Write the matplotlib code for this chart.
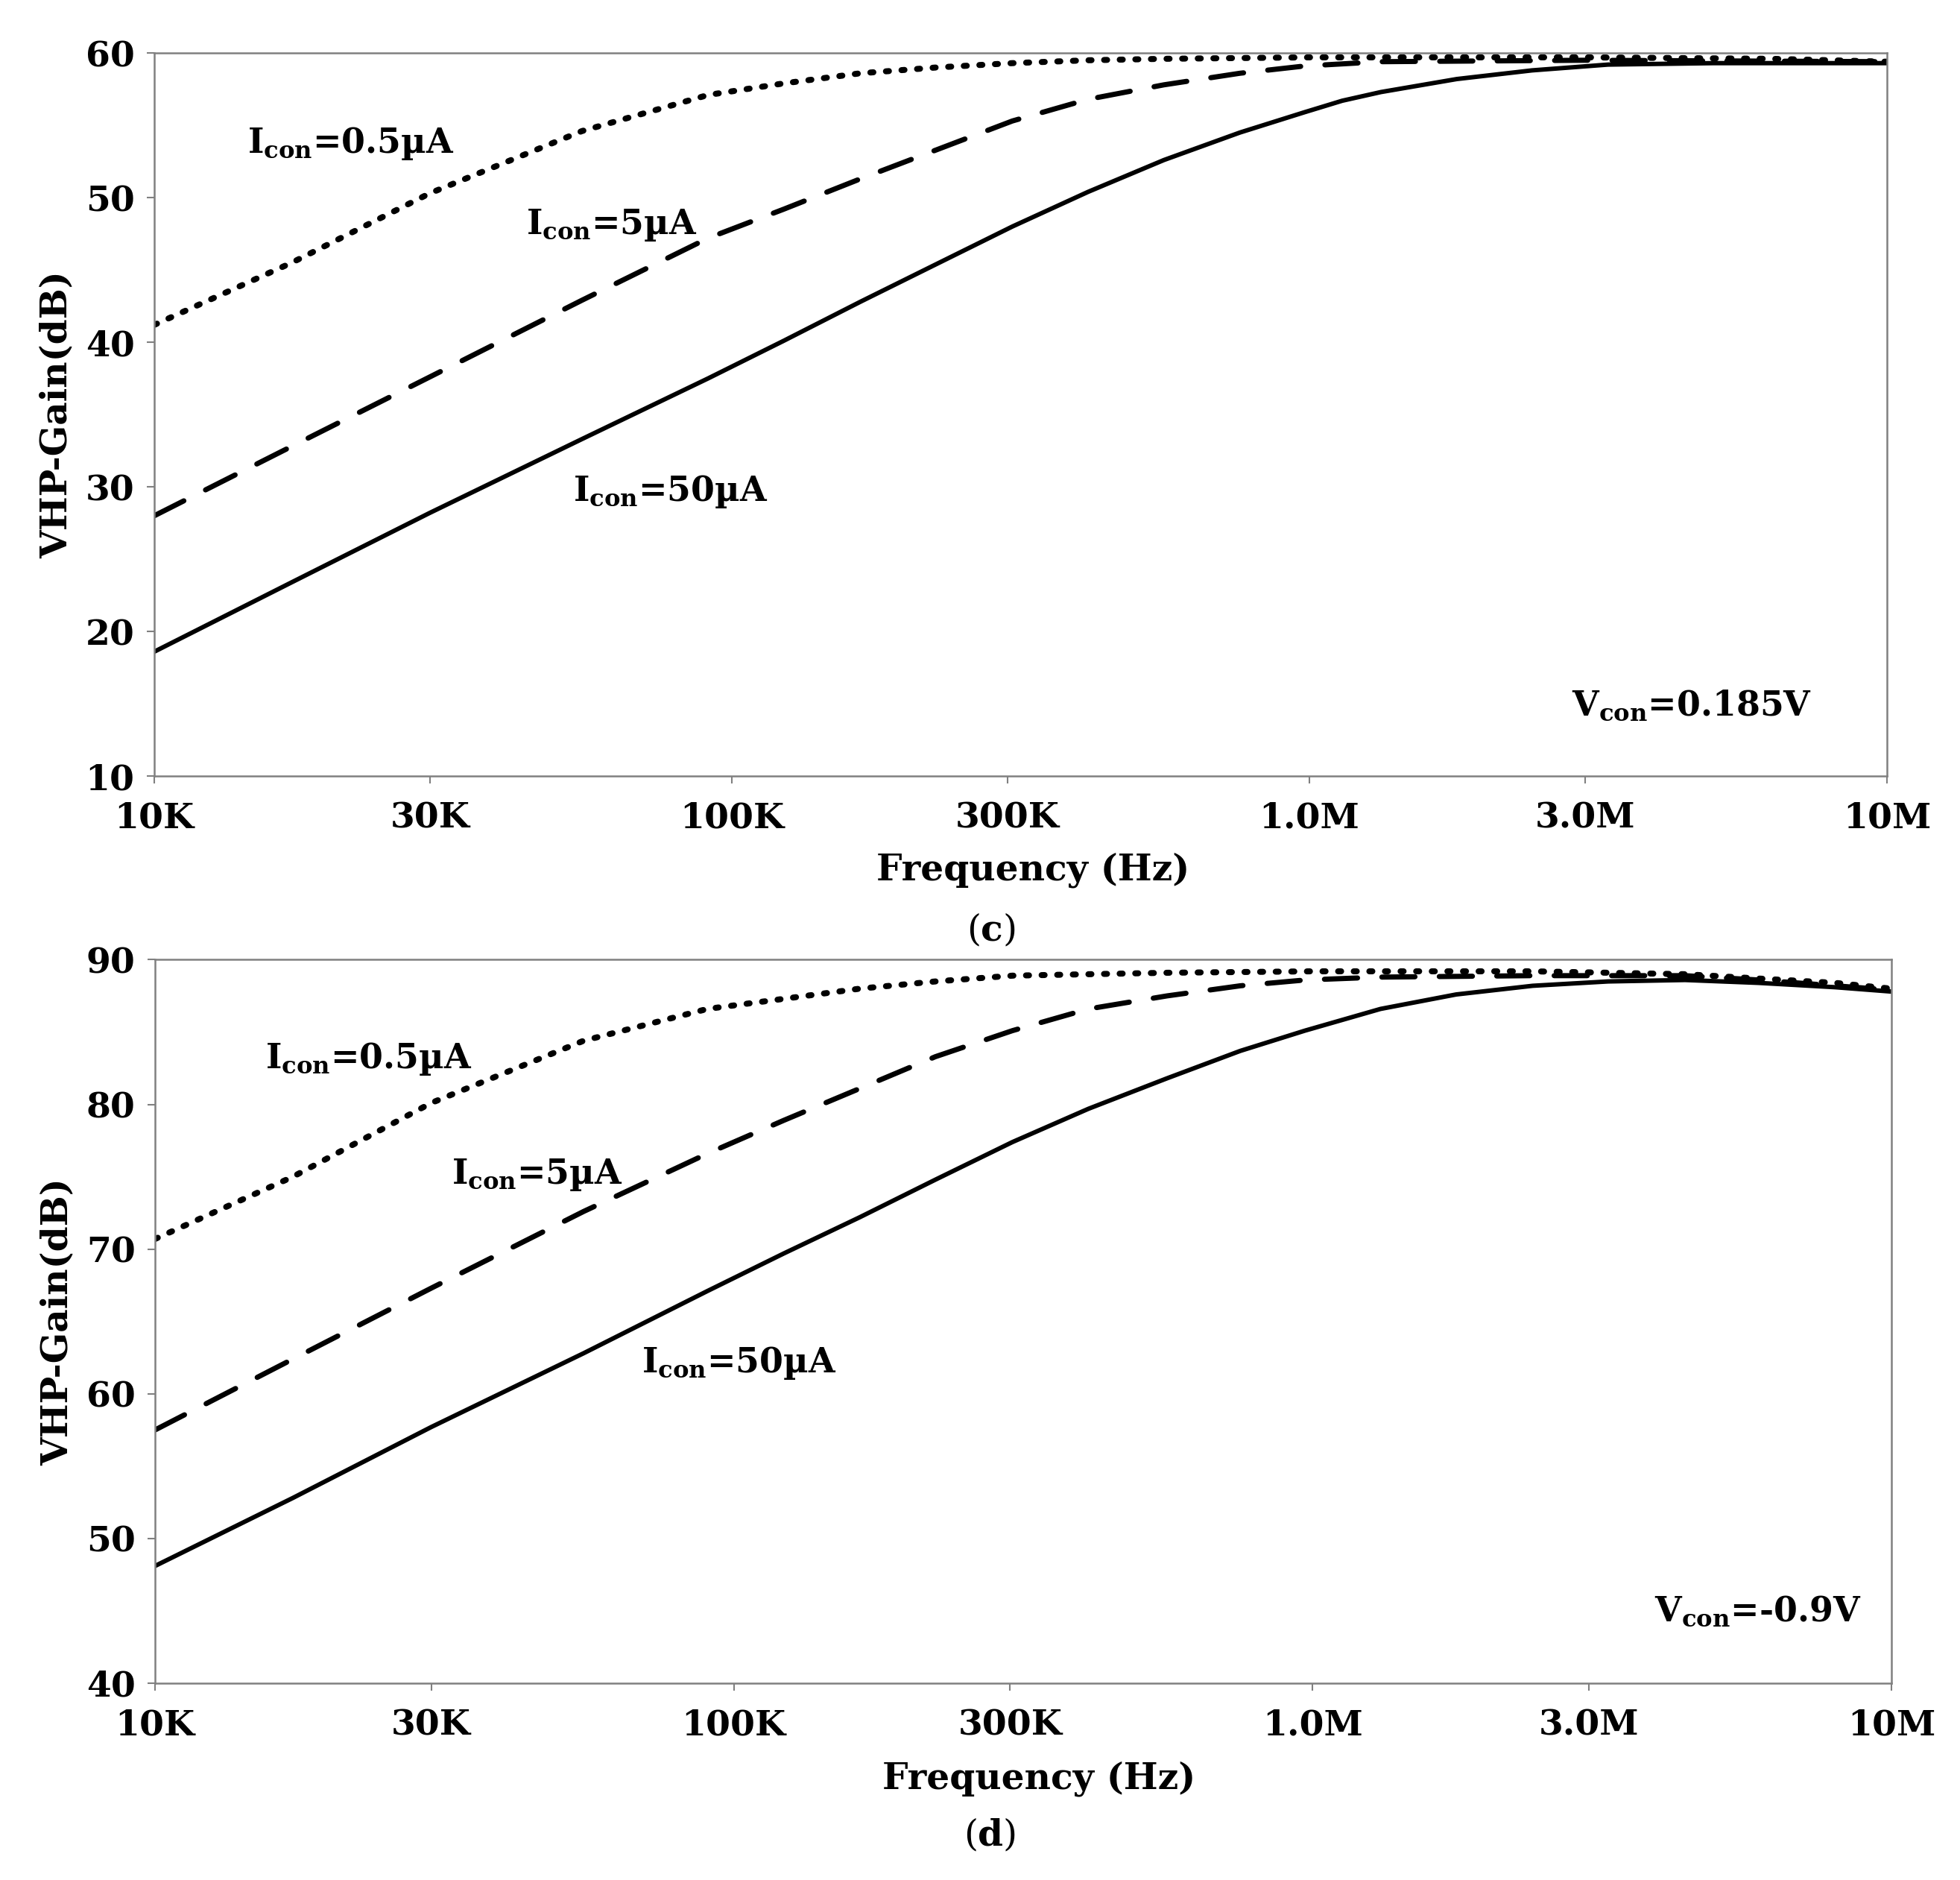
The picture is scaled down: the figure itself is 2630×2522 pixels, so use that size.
import numpy as np
import matplotlib
matplotlib.use("Agg")
import matplotlib.pyplot as plt
from matplotlib.ticker import FixedLocator, NullLocator

plt.rcParams['font.family'] = 'DejaVu Serif'
plt.rcParams['font.weight'] = 'bold'
plt.rcParams['mathtext.fontset'] = 'custom'
plt.rcParams['mathtext.rm'] = 'DejaVu Serif'
plt.rcParams['mathtext.bf'] = 'DejaVu Serif:bold'

# ---- panel (c), Vcon = 0.185 V
f_c_50 = [1e4, 1.73e4, 3e4, 5.5e4, 9.1e4, 1.23e5, 1.67e5, 2.26e5, 3.06e5, 4.14e5, 5.6e5,
          7.58e5, 9.8e5, 1.14e6, 1.33e6, 1.8e6, 2.43e6, 3.29e6, 5e6, 1e7]
g_c_50 = [18.6, 23.4, 28.2, 33.3, 37.5, 40.1, 42.8, 45.4, 48.0, 50.4, 52.6,
          54.5, 55.9, 56.7, 57.3, 58.2, 58.8, 59.2, 59.3, 59.3]

f_c_5 = [1e4, 1.73e4, 3e4, 5.5e4, 9.1e4, 1.23e5, 1.67e5, 2.26e5, 3.06e5, 4.14e5, 5.6e5,
         7.58e5, 9.8e5, 1.33e6, 3e6, 1e7]
g_c_5 = [28.0, 32.8, 37.6, 42.9, 47.2, 49.2, 51.3, 53.3, 55.3, 56.8, 57.8,
         58.6, 59.1, 59.4, 59.5, 59.4]

f_c_05 = [1e4, 1.73e4, 3e4, 5.5e4, 9.1e4, 1.23e5, 1.67e5, 2.26e5, 3.06e5, 4.14e5, 5.6e5,
          1e6, 3e6, 6.3e6, 1e7]
g_c_05 = [41.2, 45.5, 50.3, 54.6, 57.1, 57.9, 58.6, 59.0, 59.3, 59.5, 59.6,
          59.7, 59.7, 59.6, 59.4]

# ---- panel (d), Vcon = -0.9 V
f_d_50 = [1e4, 1.73e4, 3e4, 5.5e4, 9e4, 1.22e5, 1.65e5, 2.23e5, 3.03e5, 4.1e5, 5.6e5,
          7.5e5, 9.7e5, 1.31e6, 1.77e6, 2.4e6, 3.24e6, 4.4e6, 5.9e6, 8e6, 1e7]
g_d_50 = [48.1, 52.8, 57.7, 62.8, 67.1, 69.7, 72.2, 74.8, 77.4, 79.7, 81.8,
          83.7, 85.1, 86.6, 87.6, 88.2, 88.5, 88.6, 88.4, 88.1, 87.8]

f_d_5 = [1e4, 1.73e4, 3e4, 5.5e4, 9e4, 1.22e5, 1.65e5, 2.23e5, 3.03e5, 4.1e5, 5.6e5,
         7.5e5, 9.7e5, 1.31e6, 2.4e6, 4.4e6, 5.9e6, 8e6, 1e7]
g_d_5 = [57.5, 62.4, 67.3, 72.6, 76.6, 78.9, 81.1, 83.3, 85.1, 86.6, 87.5,
         88.2, 88.6, 88.8, 88.9, 88.9, 88.6, 88.2, 87.9]

f_d_05 = [1e4, 1.73e4, 3e4, 5.5e4, 9e4, 1.22e5, 1.65e5, 2.23e5, 3.03e5, 4.1e5, 5.6e5,
          1e6, 2.4e6, 4.4e6, 5.9e6, 8e6, 1e7]
g_d_05 = [70.7, 75.0, 80.1, 84.4, 86.6, 87.3, 88.0, 88.5, 88.9, 89.0, 89.1,
          89.2, 89.2, 89.0, 88.7, 88.4, 88.0]

xticks = [1e4, 3e4, 1e5, 3e5, 1e6, 3e6, 1e7]
xticklabels = ['10K', '30K', '100K', '300K', '1.0M', '3.0M', '10M']
yticks_c = [10, 20, 30, 40, 50, 60]
yticks_d = [40, 50, 60, 70, 80, 90]

fig = plt.figure(figsize=(26.3, 25.22), dpi=100)
ax_c = fig.add_axes([0.0787, 0.5872, 0.8840, 0.3846])
ax_d = fig.add_axes([0.0791, 0.1047, 0.8859, 0.3848])

gray = '#808080'


def draw(ax, f50, g50, f5, g5, f05, g05, yticks):
    ax.plot(f50, g50, color='black', lw=4.3, solid_capstyle='round', solid_joinstyle='round')
    ax.plot(f5, g5, color='black', lw=5.0, dashes=(6.4, 4.7), dash_capstyle='round')
    ax.plot(f05, g05, color='black', lw=5.8, dashes=(0.5, 2.1), dash_capstyle='round')
    ax.set_xscale('log')
    ax.set_xlim(1e4, 1e7)
    ax.set_ylim(yticks[0], yticks[-1])
    ax.xaxis.set_major_locator(FixedLocator(xticks))
    ax.xaxis.set_minor_locator(NullLocator())
    ax.set_xticklabels(xticklabels)
    ax.set_yticks(yticks)
    for s in ax.spines.values():
        s.set_color(gray)
        s.set_linewidth(1.8)
    ax.tick_params(axis='both', direction='out', length=7, width=1.5, color=gray,
                   labelsize=34)
    ax.tick_params(axis='y', pad=12)
    ax.tick_params(axis='x', pad=17)
    ax.set_ylabel('VHP-Gain(dB)', fontsize=35, fontweight='bold', va='center')
    ax.yaxis.set_label_coords(-0.0563, 0.5)
    ax.set_xlabel('Frequency (Hz)', fontsize=35, fontweight='bold', va='center')


draw(ax_c, f_c_50, g_c_50, f_c_5, g_c_5, f_c_05, g_c_05, yticks_c)
draw(ax_d, f_d_50, g_d_50, f_d_5, g_d_5, f_d_05, g_d_05, yticks_d)
ax_c.xaxis.set_label_coords(0.507, -0.130)
ax_d.xaxis.set_label_coords(0.509, -0.132)

tfs = 33
ax_c.text(1.45e4, 53.1, 'I$_{\\mathbf{con}}$=0.5µA', fontsize=tfs)
ax_c.text(4.40e4, 47.5, 'I$_{\\mathbf{con}}$=5µA', fontsize=tfs)
ax_c.text(5.31e4, 29.0, 'I$_{\\mathbf{con}}$=50µA', fontsize=tfs)
ax_c.text(2.85e6, 14.2, 'V$_{\\mathbf{con}}$=0.185V', fontsize=tfs)

ax_d.text(1.55e4, 82.5, 'I$_{\\mathbf{con}}$=0.5µA', fontsize=tfs)
ax_d.text(3.25e4, 74.5, 'I$_{\\mathbf{con}}$=5µA', fontsize=tfs)
ax_d.text(6.93e4, 61.5, 'I$_{\\mathbf{con}}$=50µA', fontsize=tfs)
ax_d.text(3.9e6, 44.3, 'V$_{\\mathbf{con}}$=-0.9V', fontsize=tfs)

fig.text(1330 / 2630, 1 - 1248 / 2522, '($\\mathbf{c}$)', fontsize=35, fontweight='normal',
         ha='center', va='center')
fig.text(1328 / 2630, 1 - 2462 / 2522, '($\\mathbf{d}$)', fontsize=35, fontweight='normal',
         ha='center', va='center')

fig.savefig('out.png', dpi=100, facecolor='white')
